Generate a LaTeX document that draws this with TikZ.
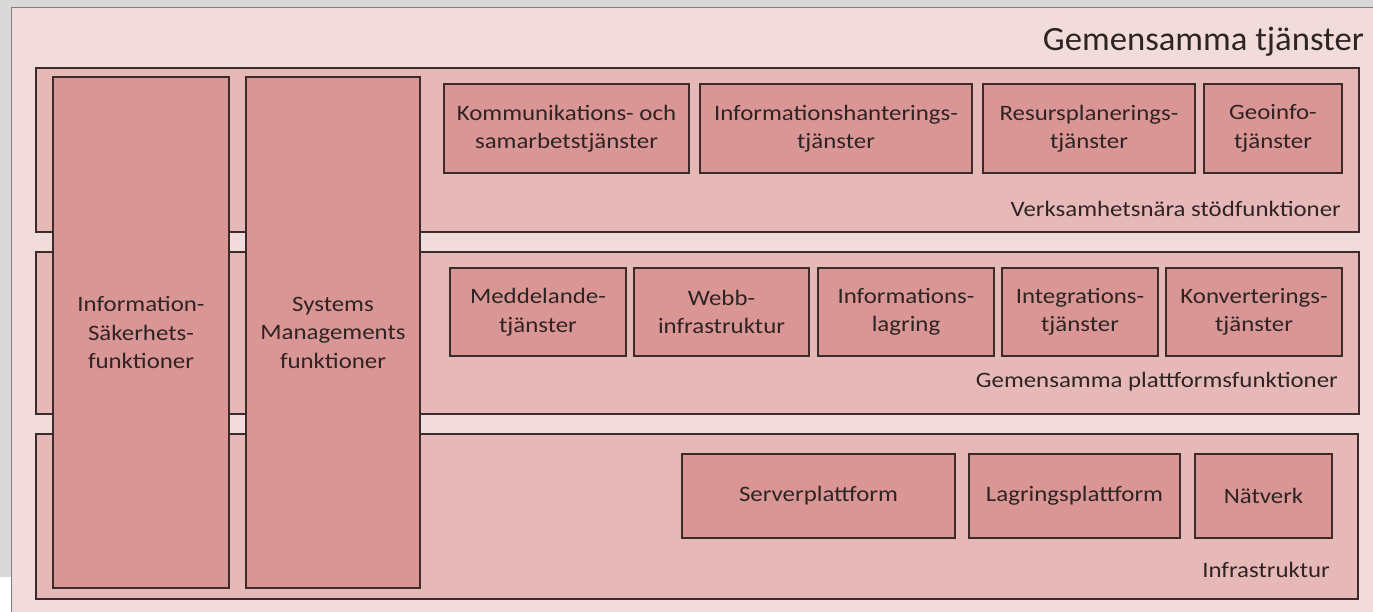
\documentclass[tikz,border=0pt]{standalone}
\usepackage{fontspec}
\setmainfont{Carlito}[FakeStretch=1.13]
\newfontfamily\titlefont{Carlito}[FakeStretch=1.02]
\definecolor{outerfill}{HTML}{F2DCDB}
\definecolor{rowfill}{HTML}{E6B9B8}
\definecolor{boxfill}{HTML}{D99694}
\definecolor{boxline}{HTML}{3B2B2B}
\definecolor{frameline}{HTML}{7F7F7F}
\definecolor{bggrey}{HTML}{D9D9D9}
\definecolor{txt}{HTML}{2E2424}
\begin{document}
\begin{tikzpicture}[x=1pt,y=-1pt,
  rowbox/.style={draw=boxline,line width=1.6pt,fill=rowfill,rectangle,inner sep=0pt,outer sep=0pt},
  cellbox/.style={draw=boxline,line width=1.6pt,fill=boxfill,rectangle,inner sep=0pt,outer sep=0pt,
     text=txt,align=center,font=\fontsize{22}{28.5}\selectfont},
  lbl/.style={text=txt,font=\fontsize{22}{28}\selectfont,inner sep=0pt,anchor=east}]
\useasboundingbox (0,0) rectangle (1373,612);
% background
\fill[white] (0,0) rectangle (1373,612);
\fill[bggrey] (0,0) rectangle (1373,7);
\fill[bggrey] (0,0) rectangle (11,577);
% outer frame
\node[draw=frameline,line width=1.2pt,fill=outerfill,inner sep=0pt,minimum width=1380pt,minimum height=620pt,anchor=north west] (outer) at (11,7) {};
\node[text=txt,font=\titlefont\fontsize{34}{38}\selectfont,anchor=east,inner sep=0pt] (title) at (1364,42) {Gemensamma tjänster};
% rows
\node[rowbox,minimum width=1323pt,minimum height=164pt] (r1) at (697.5,150) {};
\node[rowbox,minimum width=1323pt,minimum height=162pt] (r2) at (697.5,333) {};
\node[rowbox,minimum width=1322pt,minimum height=165pt] (r3) at (697,516.5) {};
% row labels
\node[lbl] (l1) at (1341,209) {Verksamhetsnära stödfunktioner};
\node[lbl] (l2) at (1338,382) {Gemensamma plattformsfunktioner};
\node[lbl] (l3) at (1330,570) {Infrastruktur};
% tall boxes
\node[cellbox,minimum width=176pt,minimum height=511pt] (sak) at (141,332.5) {Information-\\Säkerhets-\\funktioner};
\node[cellbox,minimum width=174pt,minimum height=511pt] (sys) at (333,332.5) {Systems\\Managements\\funktioner};
% row 1
\node[cellbox,minimum width=245pt,minimum height=89pt] (komm) at (566.5,128.5) {Kommunikations- och\\samarbetstjänster};
\node[cellbox,minimum width=272pt,minimum height=89pt] (infoh) at (836,128.5) {Informationshanterings-\\tjänster};
\node[cellbox,minimum width=212pt,minimum height=89pt] (resurs) at (1089,128.5) {Resursplanerings-\\tjänster};
\node[cellbox,minimum width=138pt,minimum height=89pt] (geo) at (1273,128.5) {Geoinfo-\\tjänster};
% row 2
\node[cellbox,minimum width=176pt,minimum height=88pt] (medd) at (538,312) {Meddelande-\\tjänster};
\node[cellbox,minimum width=175pt,minimum height=88pt] (webb) at (721.5,312) {Webb-\\infrastruktur};
\node[cellbox,minimum width=176pt,minimum height=88pt] (infol) at (906,312) {Informations-\\lagring};
\node[cellbox,minimum width=156pt,minimum height=88pt] (integ) at (1080,312) {Integrations-\\tjänster};
\node[cellbox,minimum width=176pt,minimum height=88pt] (konv) at (1254,312) {Konverterings-\\tjänster};
% row 3
\node[cellbox,minimum width=273pt,minimum height=84pt] (server) at (818.5,496) {Serverplattform};
\node[cellbox,minimum width=211pt,minimum height=84pt] (lagr) at (1074.5,496) {Lagringsplattform};
\node[cellbox,minimum width=137pt,minimum height=84pt] (natv) at (1263.5,496) {Nätverk};
\end{tikzpicture}
\end{document}
